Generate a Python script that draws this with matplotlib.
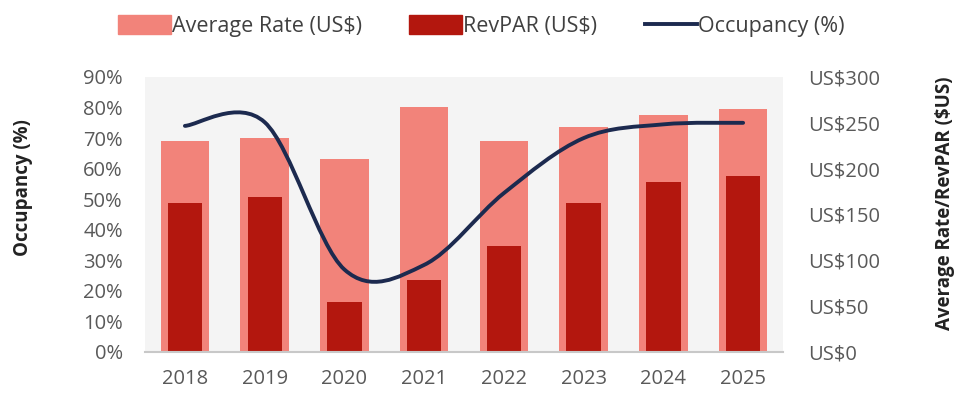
import matplotlib
matplotlib.use("Agg")
import matplotlib.pyplot as plt
import numpy as np
from matplotlib.path import Path
from matplotlib.patches import PathPatch, Patch
from matplotlib.lines import Line2D
from matplotlib.ticker import FuncFormatter

plt.rcParams['font.family'] = ['Open Sans', 'DejaVu Sans']

# values
years = ['2018', '2019', '2020', '2021', '2022', '2023', '2024', '2025']
avg_rate = [230, 233, 210, 267, 230, 245, 258, 265]      # US$
revpar = [163, 169, 55, 78, 116, 163, 185, 192]          # US$
occupancy = [74, 75.2, 27, 28.5, 52, 70, 74.5, 75]      # %

light = '#f2837a'
dark = '#b3170e'
navy = '#1c2a4f'
tick_col = '#595959'

fig = plt.figure(figsize=(9.58, 3.94), dpi=100)
ax = fig.add_axes([0.1514, 0.1066, 0.6659, 0.698])
ax2 = ax.twinx()

# bars go on the right (US$) axis, drawn underneath the occupancy line
ax.set_zorder(ax2.get_zorder() + 1)
ax.patch.set_visible(False)
ax2.patch.set_visible(True)
ax2.patch.set_facecolor('#f4f4f4')

x = np.arange(len(years))
ax2.bar(x, avg_rate, width=0.61, color=light, zorder=2)
ax2.bar(x, revpar, width=0.43, color=dark, zorder=3)

# smoothed occupancy line (Excel style bezier through the points)
pts = np.column_stack([x, occupancy]).astype(float)
n = len(pts)
verts = [pts[0]]
codes = [Path.MOVETO]
for i in range(n - 1):
    p0 = pts[i - 1] if i > 0 else pts[i]
    p1, p2 = pts[i], pts[i + 1]
    p3 = pts[i + 2] if i + 2 < n else pts[i + 1]
    verts += [p1 + (p2 - p0) / 6, p2 - (p3 - p1) / 6, p2]
    codes += [Path.CURVE4] * 3
ax.add_patch(PathPatch(Path(verts, codes), fill=False, edgecolor=navy,
                       lw=2.8, capstyle='round', zorder=5))

ax.set_xlim(-0.5, len(years) - 0.5)
ax.set_ylim(0, 90)
ax.set_yticks(np.arange(0, 91, 10))
ax.yaxis.set_major_formatter(FuncFormatter(lambda v, p: f'{v:.0f}%'))
ax2.set_ylim(0, 300)
ax2.set_yticks(np.arange(0, 301, 50))
ax2.yaxis.set_major_formatter(FuncFormatter(lambda v, p: f'US${v:.0f}'))
ax.set_xticks(x)
ax.set_xticklabels(years)

ax.tick_params(axis='y', length=0, pad=16, labelsize=14.5, colors=tick_col)
ax2.tick_params(axis='y', length=0, pad=18, labelsize=14.5, colors=tick_col)
ax.tick_params(axis='x', length=0, pad=12, labelsize=14.5, colors=tick_col)

for s in ax.spines.values():
    s.set_visible(False)
for s in ax2.spines.values():
    s.set_visible(False)
ax.spines['bottom'].set_visible(True)
ax.spines['bottom'].set_color('#c8c8c8')
ax.spines['bottom'].set_linewidth(1.5)

fig.text(23 / 958, 1 - 188 / 394, 'Occupancy (%)', rotation=90, ha='center',
         va='center', fontsize=13.5, fontweight='bold', color='#222222')
fig.text(945 / 958, 1 - 203 / 394, 'Average Rate/RevPAR ($US)', rotation=90,
         ha='center', va='center', fontsize=13.5, fontweight='bold', color='#222222')

handles = [Patch(color=light, label='Average Rate (US$)'),
           Patch(color=dark, label='RevPAR (US$)'),
           Line2D([], [], color=navy, lw=2.8, label='Occupancy (%)')]
fig.legend(handles=handles, loc='center', bbox_to_anchor=(0.5026, 1 - 26 / 394),
           ncol=3, frameon=False, fontsize=15.5, handlelength=2.45,
           handleheight=0.95, handletextpad=0.05, columnspacing=2.2,
           borderpad=0, labelcolor='#404040')

fig.savefig('out.png', dpi=100)
